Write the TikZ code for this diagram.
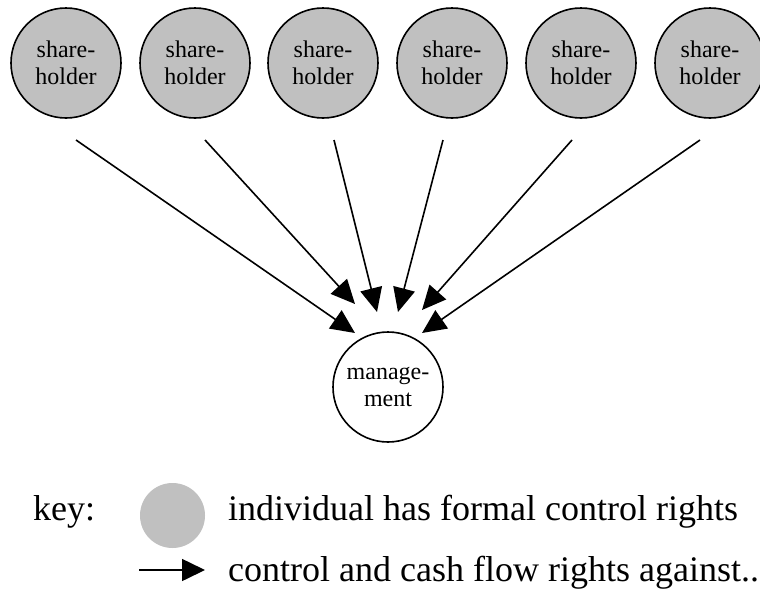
\documentclass[tikz,border=0pt]{standalone}
\usepackage{fontspec}
\setmainfont{Liberation Serif}
\usetikzlibrary{arrows.meta}
\definecolor{holdergray}{HTML}{C0C0C0}
\tikzset{
  holder/.style={circle, draw=black, line width=1.6pt, fill=holdergray,
    minimum size=110pt, inner sep=0pt, align=center,
    font=\fontsize{24}{27}\selectfont},
  mgmt/.style={circle, draw=black, line width=1.6pt, fill=white,
    minimum size=110pt, inner sep=0pt, align=center,
    font=\fontsize{24}{27}\selectfont},
  rights/.style={line width=1.6pt, -{Triangle[length=24pt,width=22pt]}},
  keytext/.style={anchor=base west, inner sep=0pt, font=\fontsize{36}{40}\selectfont}
}
\begin{document}
\begin{tikzpicture}[x=1pt,y=-1pt]
\useasboundingbox (0,0) rectangle (760,592);

% shareholders
\node[holder] (s1) at (66,63)  {share-\\holder};
\node[holder] (s2) at (195,63) {share-\\holder};
\node[holder] (s3) at (323,63) {share-\\holder};
\node[holder] (s4) at (452,63) {share-\\holder};
\node[holder] (s5) at (581,63) {share-\\holder};
\node[holder] (s6) at (710,63) {share-\\holder};

% management
\node[mgmt] (m) at (388,387) {manage-\\ment};

% control and cash flow rights
\draw[rights] ([shift={(10,77)}]s1.center)  -- ([shift={(-33,-54)}]m.center);
\draw[rights] ([shift={(10,77)}]s2.center)  -- ([shift={(-33,-83)}]m.center);
\draw[rights] ([shift={(11,77)}]s3.center)  -- ([shift={(-11,-75)}]m.center);
\draw[rights] ([shift={(-9,77)}]s4.center)  -- ([shift={(10,-75)}]m.center);
\draw[rights] ([shift={(-9,77)}]s5.center)  -- ([shift={(34,-77)}]m.center);
\draw[rights] ([shift={(-10,77)}]s6.center) -- ([shift={(34,-54)}]m.center);

% key
\node[keytext] (k) at (33,520) {key:};
\node[circle, fill=holdergray, minimum size=65pt, inner sep=0pt] (kc) at (172.5,515.5) {};
\node[keytext] (kt1) at (228,520) {individual has formal control rights};
\coordinate (ka) at (139,570);
\coordinate (kb) at (205,570);
\draw[line width=1.6pt, -{Triangle[length=23pt,width=22pt]}] (ka) -- (kb);
\node[keytext] (kt2) at (228,581) {control and cash flow rights against..};
\end{tikzpicture}
\end{document}
